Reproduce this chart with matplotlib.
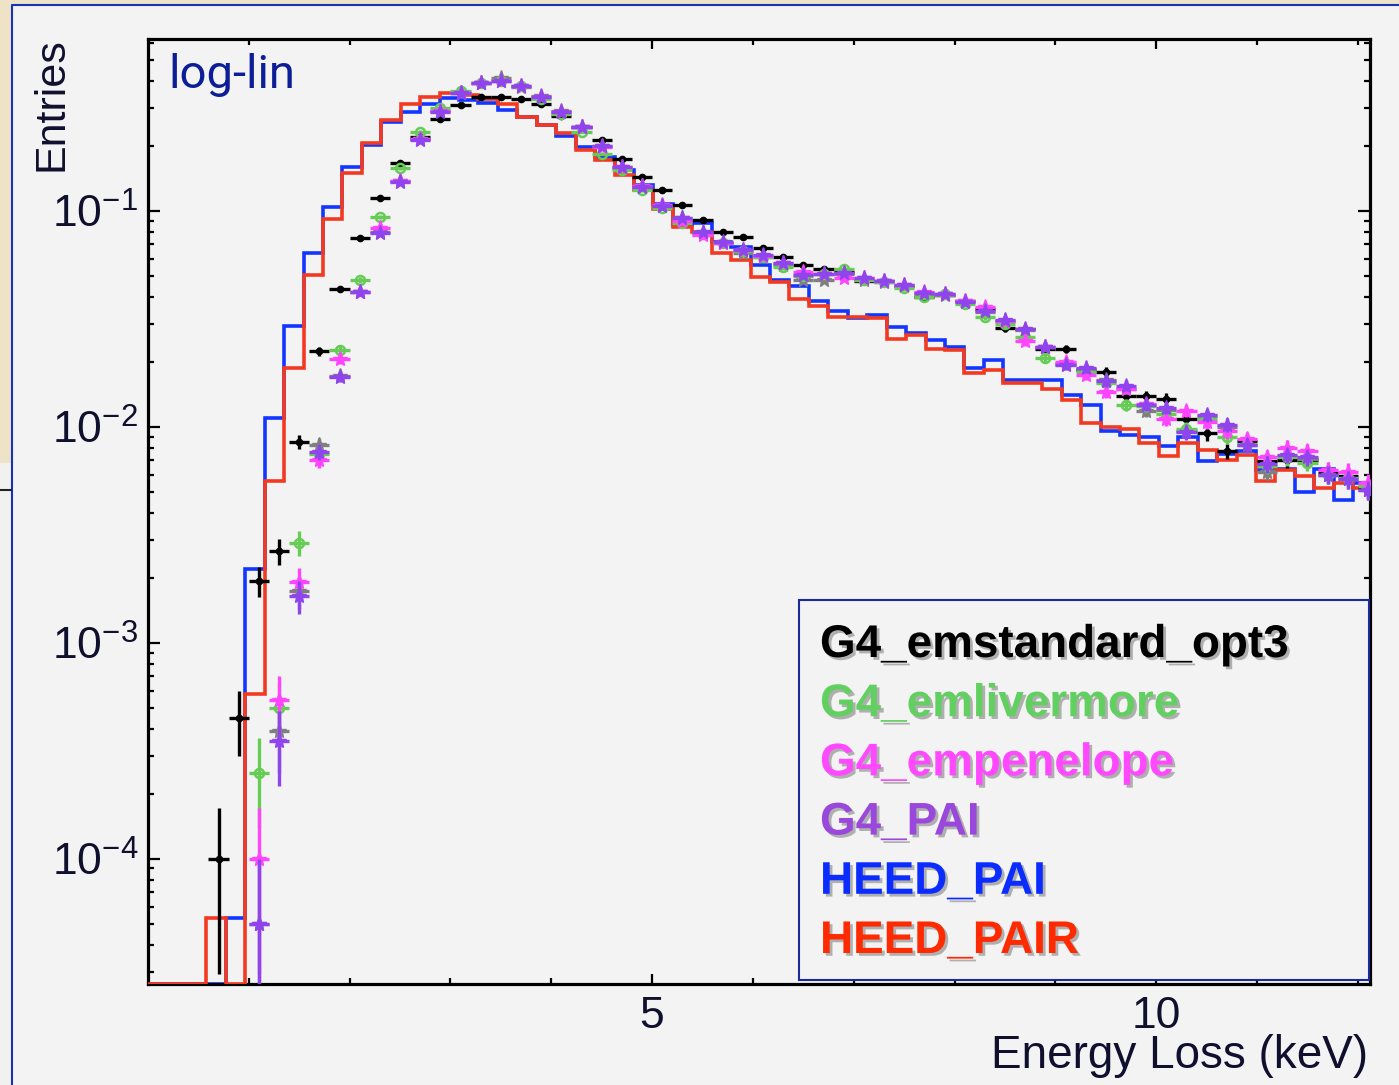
import numpy as np
import matplotlib
matplotlib.use("Agg")
import matplotlib.pyplot as plt
from matplotlib.patches import Rectangle
from matplotlib.lines import Line2D
from matplotlib import patheffects as pe
from matplotlib.ticker import FixedLocator, FixedFormatter, LogLocator, NullFormatter

plt.rcParams['font.family'] = ['Liberation Sans', 'DejaVu Sans']
plt.rcParams['mathtext.fontset'] = 'custom'
plt.rcParams['mathtext.rm'] = 'Liberation Sans'
plt.rcParams['mathtext.default'] = 'regular'

# --- histograms (HEED), 63 bins of 0.1928 keV ---
hist_edges = np.arange(64) * 0.1928
heed_pai = [0, 0, 0, 0, 5.3e-5, 2.2e-3, 0.011, 0.0294, 0.0635, 0.104,
            0.160, 0.2015, 0.257, 0.287, 0.311, 0.334, 0.325, 0.314, 0.293, 0.272,
            0.249, 0.222, 0.197, 0.178, 0.154, 0.131, 0.107, 0.086, 0.088, 0.072,
            0.068, 0.0561, 0.048, 0.0446, 0.0382, 0.0344, 0.0318, 0.0329, 0.0291, 0.0271,
            0.0252, 0.0235, 0.0186, 0.0203, 0.0164, 0.0164, 0.0164, 0.0140, 0.0126, 0.0095,
            0.0092, 0.0090, 0.0081, 0.0090, 0.0069, 0.0075, 0.0077, 0.0063, 0.0064, 0.0050,
            0.0064, 0.0046, 0.0055]
heed_pair = [0, 0, 0, 5.3e-5, 0, 5.8e-4, 5.6e-3, 0.0186, 0.0504, 0.092,
             0.149, 0.205, 0.262, 0.311, 0.335, 0.352, 0.343, 0.330, 0.311, 0.272,
             0.249, 0.228, 0.191, 0.172, 0.146, 0.125, 0.102, 0.0843, 0.080, 0.0635,
             0.059, 0.0493, 0.047, 0.039, 0.0362, 0.0322, 0.0321, 0.0318, 0.0254, 0.0265,
             0.0229, 0.0226, 0.0177, 0.0183, 0.0159, 0.0159, 0.0150, 0.0133, 0.0104, 0.0100,
             0.0098, 0.0084, 0.0073, 0.0084, 0.0078, 0.0070, 0.0074, 0.0056, 0.0063, 0.0059,
             0.0052, 0.0055, 0.0052]

# --- Geant4 points, bin centres 0.1 ... 12.1 keV ---
energy = np.round(np.arange(0.1, 12.2, 0.2), 1)
nan = np.nan
g4_opt3 = [nan, nan, nan, 1.0e-4, 4.5e-4, 1.93e-3, 2.66e-3, 8.5e-3, 0.0224, 0.0434,
           0.0745, 0.114, 0.166, 0.220, 0.265, 0.309, 0.337, 0.337, 0.330, 0.311,
           0.275, 0.245, 0.212, 0.174, 0.144, 0.125, 0.106, 0.0906, 0.080, 0.0753,
           0.067, 0.061, 0.056, 0.0537, 0.0522, 0.0473, 0.0473, 0.045, 0.040, 0.0407,
           0.038, 0.035, 0.0286, 0.0283, 0.023, 0.0229, 0.0183, 0.018, 0.0139, 0.0138,
           0.0135, 0.0108, 0.0093, 0.0077, 0.0086, 0.0069, 0.0070, 0.0070, 0.0061, 0.0059,
           0.0052]
g4_livermore = [nan, nan, nan, nan, nan, 2.5e-4, 5.0e-4, 2.9e-3, 7.5e-3, 0.0227,
                0.0478, 0.0938, 0.157, 0.232, 0.299, 0.360, 0.390, 0.400, 0.380, 0.330,
                0.280, 0.232, 0.184, 0.155, 0.125, 0.103, 0.088, 0.078, 0.071, 0.065,
                0.061, 0.055, 0.050, 0.051, 0.054, 0.048, 0.047, 0.044, 0.040, 0.041,
                0.037, 0.0323, 0.030, 0.0261, 0.0208, 0.0195, 0.018, 0.016, 0.0126, 0.0125,
                0.0115, 0.0098, 0.0108, 0.0090, 0.0083, 0.0066, 0.0072, 0.0068, 0.0060, 0.0058,
                0.0053]
g4_penelope = [nan, nan, nan, nan, nan, 1.0e-4, 5.4e-4, 1.9e-3, 7.0e-3, 0.0205,
               0.042, 0.0834, 0.137, 0.215, 0.290, 0.352, 0.390, 0.400, 0.380, 0.335,
               0.287, 0.243, 0.198, 0.160, 0.130, 0.106, 0.090, 0.077, 0.071, 0.066,
               0.062, 0.057, 0.052, 0.051, 0.049, 0.0486, 0.0475, 0.0455, 0.042, 0.041,
               0.038, 0.036, 0.031, 0.0248, 0.0235, 0.0200, 0.0174, 0.0145, 0.0150, 0.0128,
               0.0108, 0.0118, 0.0105, 0.0095, 0.0088, 0.0072, 0.0080, 0.0077, 0.0063, 0.0062,
               0.0055]
g4_pai = [nan, nan, nan, nan, nan, 5.0e-5, 3.5e-4, 1.65e-3, 7.65e-3, 0.017,
          0.0419, 0.079, 0.136, 0.212, 0.287, 0.350, 0.390, 0.400, 0.380, 0.337,
          0.287, 0.245, 0.200, 0.160, 0.129, 0.105, 0.0922, 0.080, 0.0718, 0.0658,
          0.0624, 0.057, 0.0504, 0.051, 0.0513, 0.0486, 0.0473, 0.0453, 0.0417, 0.041,
          0.0379, 0.0345, 0.0312, 0.0283, 0.0235, 0.0193, 0.0186, 0.0162, 0.0155, 0.0126,
          0.0122, 0.0094, 0.0113, 0.0102, 0.0082, 0.0067, 0.0074, 0.0072, 0.0060, 0.0057,
          0.0051]
g4_other = [nan, nan, nan, nan, nan, 5.0e-5, 3.9e-4, 1.73e-3, 8.2e-3, 0.0172,
            0.042, 0.080, 0.138, 0.215, 0.290, 0.352, 0.390, 0.410, 0.375, 0.340,
            0.290, 0.245, 0.200, 0.158, 0.130, 0.105, 0.093, 0.079, 0.071, 0.064,
            0.061, 0.056, 0.048, 0.0478, 0.051, 0.048, 0.047, 0.045, 0.041, 0.0405,
            0.038, 0.034, 0.031, 0.028, 0.0235, 0.0195, 0.0185, 0.0164, 0.0150, 0.0118,
            0.0120, 0.0096, 0.0112, 0.0100, 0.0082, 0.0062, 0.0073, 0.0071, 0.0060, 0.0057,
            0.0051]
n_events = 20000

names = ['G4_emstandard_opt3', 'G4_emlivermore', 'G4_empenelope', 'G4_PAI',
         'HEED_PAI', 'HEED_PAIR']
text_colors = ['#000000', '#62d060', '#ff48ff', '#9a48dc', '#0a2cff', '#ff2a00']

W, H = 1399, 1085
YMIN, YMAX = 2.64e-5, 0.624


def fx(px):
    return px / W


def fy(py):
    return 1 - py / H


fig = plt.figure(figsize=(W / 100, H / 100), dpi=100)
fig.patch.set_facecolor('#eee3c6')

# slide panel behind the plot: grey fill, blue rule on top and left only
fig.add_artist(Rectangle((fx(12), 0), 1 - fx(12), fy(5), transform=fig.transFigure,
                         facecolor='#f3f3f3', edgecolor='none', zorder=-5))
fig.add_artist(Line2D([fx(12), fx(12), 1], [0, fy(5), fy(5)], transform=fig.transFigure,
                      color='#1a32b4', lw=1.5, zorder=-4))
fig.add_artist(Rectangle((0, 0), fx(11), fy(463), transform=fig.transFigure,
                         facecolor='#f1f1f0', edgecolor='none', zorder=-5))
fig.add_artist(Line2D([0, fx(11)], [fy(490), fy(490)], transform=fig.transFigure,
                      color='#222222', lw=1.5, zorder=-4))

ax = fig.add_axes([fx(148), fy(983.5), fx(1370) - fx(148), (983.5 - 39) / H])
ax.set_facecolor('#f3f3f3')
ax.set_yscale('log')
ax.set_xlim(0, 12.12)
ax.set_ylim(YMIN, YMAX)

# empty bins are drawn on the frame bottom
pai = np.array(heed_pai, dtype=float)
pair = np.array(heed_pair, dtype=float)
ax.stairs(np.where(pai > 0, pai, YMIN), hist_edges, baseline=None,
          color='#1236ff', lw=2.6, zorder=2)
ax.stairs(np.where(pair > 0, pair, YMIN), hist_edges, baseline=None,
          color='#f23a22', lw=2.6, zorder=3)


def points(vals, fmt, color, ms, z, mfc=None, mew=1.0):
    v = np.array(vals, dtype=float)
    err = np.sqrt(v / n_events)
    ax.errorbar(energy, v, xerr=0.1, yerr=err, fmt=fmt, color=color, ms=ms,
                mfc=color if mfc is None else mfc, mec=color, mew=mew,
                elinewidth=2.4, capsize=0, zorder=z)


points(g4_opt3, 'o', '#000000', 4.5, 4)
points(g4_other, '*', '#7f7f7f', 11, 5)
points(g4_livermore, 'o', '#66cc55', 6.5, 6, mfc='none', mew=1.8)
points(g4_penelope, '*', '#ff44ff', 11, 7)
points(g4_pai, '*', '#9044ee', 11, 8)

# frame and ticks
for s in ax.spines.values():
    s.set_linewidth(2.3)
    s.set_color('#000000')
ax.xaxis.set_major_locator(FixedLocator([5, 10]))
ax.xaxis.set_minor_locator(FixedLocator([1, 2, 3, 4, 6, 7, 8, 9, 11, 12]))
ax.xaxis.set_major_formatter(FixedFormatter(['5', '10']))
ax.yaxis.set_major_locator(FixedLocator([1e-4, 1e-3, 1e-2, 1e-1]))
ax.yaxis.set_major_formatter(FixedFormatter([r'$10^{-4}$', r'$10^{-3}$',
                                             r'$10^{-2}$', r'$10^{-1}$']))
ax.yaxis.set_minor_locator(LogLocator(base=10, subs=np.arange(2, 10)))
ax.yaxis.set_minor_formatter(NullFormatter())
ax.tick_params(which='both', direction='in', top=True, right=True,
               colors='#000000', width=1.6, labelcolor='#10102e')
ax.tick_params(axis='y', which='major', length=8.5, labelsize=32, pad=7)
ax.tick_params(axis='y', which='minor', length=4.5)
ax.tick_params(axis='x', which='major', length=7, labelsize=32, pad=9)
ax.tick_params(axis='x', which='minor', length=4)

fig.text(fx(52), fy(37), 'Entries', rotation=90, ha='center', va='top',
         fontsize=31, color='#10102e')
fig.text(fx(1368), fy(1056), 'Energy Loss (keV)', ha='right', va='center',
         fontsize=33, color='#10102e')
fig.text(fx(168), fy(75), 'log-lin', ha='left', va='center', fontsize=34,
         color='#0b1e98', family=['Roboto', 'DejaVu Sans'])

# legend box with shadowed labels
fig.add_artist(Rectangle((fx(799), fy(980)), fx(1369) - fx(799), (980 - 600) / H,
                         transform=fig.transFigure, facecolor='#f3f3f3',
                         edgecolor='#1a2a9c', lw=1.5, zorder=10))
shadow = [pe.withSimplePatchShadow(offset=(2, -2), shadow_rgbFace='#777777', alpha=0.55)]
for i, (name, c) in enumerate(zip(names, text_colors)):
    fig.text(fx(820), fy(645 + 59.2 * i), name, ha='left', va='center',
             fontsize=33, fontweight='bold', color=c, zorder=11, path_effects=shadow)

fig.savefig('out.png', dpi=100, facecolor=fig.get_facecolor())
